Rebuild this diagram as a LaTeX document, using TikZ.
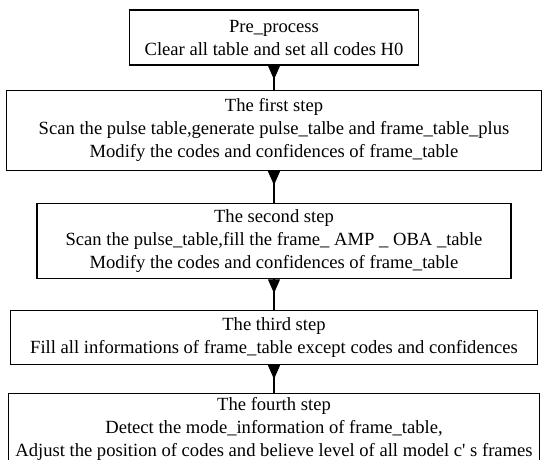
\documentclass[tikz,border=0pt]{standalone}
\usepackage{fontspec}
\setmainfont{Liberation Serif}
\usetikzlibrary{positioning}
\usetikzlibrary{arrows.meta}
\usetikzlibrary{decorations.markings}
\tikzset{
    node distance=24pt,
    stepbox/.style={
        draw,
        line width=1.1pt,
        align=center,
        inner sep=2pt,
        font=\fontsize{18.6}{23}\selectfont
    },
    flow/.style={
        draw,
        line width=1.1pt,
        postaction={decorate},
        decoration={markings,
            mark=at position 14pt with {\arrow{Triangle[length=14pt,width=12pt]}}}
    }
}

\begin{document}
\begin{tikzpicture}
    \clip (0,0) rectangle (544pt,-459pt);
    \node[stepbox, minimum width=289pt, minimum height=55pt] (pre) at (274pt,-37.5pt)
        {Pre\_process\\Clear all table and set all codes H0};
    \node[stepbox, below = 24pt of pre, line width=1.6pt, minimum width=535pt, minimum height=80pt] (first)
        {The first step\\Scan the pulse table,generate pulse\_talbe and frame\_table\_plus\\Modify the codes and confidences of frame\_table};
    \node[stepbox, below = 32pt of first, minimum width=474pt, minimum height=75pt] (second)
        {The second step\\Scan the pulse\_table,fill the frame\_ AMP \_ OBA \_table\\Modify the codes and confidences of frame\_table};
    \node[stepbox, below = 31pt of second, line width=0.9pt, minimum width=527pt, minimum height=54pt] (third)
        {The third step\\ Fill all informations of frame\_table except codes and confidences};
    \node[stepbox, below = 28pt of third, minimum width=531pt, minimum height=70pt] (fourth)
        {The fourth step\\Detect the mode\_information of frame\_table,\\Adjust the position of codes and believe level of all model c\textquotesingle\ s frames};

    % arrows between the steps
    \draw[flow] (pre.south) -- (first.north);
    \draw[flow] (first.south) -- (second.north);
    \draw[flow] (second.south) -- (third.north);
    \draw[flow] (third.south) -- (fourth.north);
\end{tikzpicture}
\end{document}
